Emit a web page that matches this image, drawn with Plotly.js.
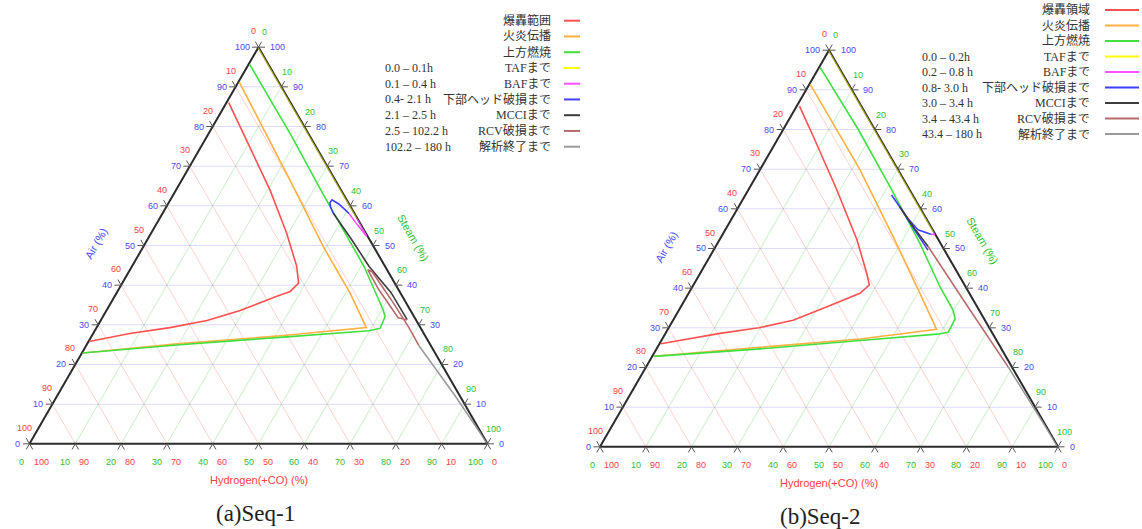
<!DOCTYPE html>
<html><head><meta charset="utf-8">
<script src="https://cdn.plot.ly/plotly-3.0.1.min.js"></script>
<style>html,body{margin:0;padding:0;background:#fff}#chart{width:1142px;height:529px}</style>
</head><body><div id="chart"></div>
<script>
// ================= DATA =================
const TICKS = [0,10,20,30,40,50,60,70,80,90,100];

const NAMES_1 = ['爆轟範囲','火炎伝播','上方燃焼','TAFまで','BAFまで','下部ヘッド破損まで','MCCIまで','RCV破損まで','解析終了まで'];
const NAMES_2 = ['爆轟領域','火炎伝播','上方燃焼','TAFまで','BAFまで','下部ヘッド破損まで','MCCIまで','RCV破損まで','解析終了まで'];
const TIMES_1 = ['','','','0.0 – 0.1h','0.1 – 0.4 h','0.4- 2.1 h','2.1 – 2.5 h','2.5 – 102.2 h','102.2 – 180 h'];
const TIMES_2 = ['','','','0.0 – 0.2h','0.2 – 0.8 h','0.8- 3.0 h','3.0 – 3.4 h','3.4 – 43.4 h','43.4 – 180 h'];
const CAPTIONS = ['(a)Seq-1','(b)Seq-2'];
const COLORS = ['#ff5050','#ffb040','#40e040','#ffff00','#ff50ff','#4040ff','#3c3c3c','#b86a6a','#9a9a9a'];

// ---- Seq-1 (Air %, Hydrogen(+CO) %, Steam %) ----
const S1_DET_AIR   = [86.0, 74.8, 63.9, 53.1, 44.7, 40.5, 38.4, 37.2, 33.6, 31.1, 29.3, 27.8, 25.8];
const S1_DET_H2    = [13.5, 14.5, 15.5, 17.3, 19.3, 21.0, 23.9, 27.4, 37.2, 45.7, 54.7, 64.2, 74.1];
const S1_DET_STEAM = [ 0.5, 10.7, 20.6, 29.6, 36.0, 38.5, 37.7, 35.4, 29.2, 23.2, 16.0,  8.0,  0.1];

const S1_FLA_AIR   = [91.2, 66.4, 49.7, 38.0, 29.3, 27.3, 25.2, 22.9];
const S1_FLA_H2    = [ 8.6,  9.9, 11.0, 11.0, 11.8, 30.9, 55.2, 76.9];
const S1_FLA_STEAM = [ 0.2, 23.7, 39.3, 51.0, 58.9, 41.8, 19.6,  0.2];

const S1_UP_AIR   = [95.7, 77.3, 63.9, 53.9, 44.7, 33.8, 32.1, 29.1, 28.5, 26.9, 24.9, 22.9];
const S1_UP_H2    = [ 4.1,  4.0,  4.4,  4.5,  4.6,  5.9,  6.3,  8.9, 11.6, 31.1, 55.4, 77.0];
const S1_UP_STEAM = [ 0.2, 18.7, 31.7, 41.6, 50.7, 60.3, 61.6, 62.0, 59.9, 42.0, 19.7,  0.1];

const S1_TAF_AIR = [100, 80, 57.0];
const S1_TAF_H2 = [0, 0, 0];
const S1_TAF_STEAM = [0, 20, 43.0];

const S1_BAF_AIR = [57.0, 54.5, 52.3, 55.2, 58.1];
const S1_BAF_H2 = [0, 0, 0.2, 0.8, 1.2];
const S1_BAF_STEAM = [43.0, 45.5, 47.5, 44.0, 40.7];

const S1_LH_AIR = [58.1, 60.4, 61.5, 60.8, 59.8, 58.2];
const S1_LH_H2 = [1.2, 2.2, 3.2, 4.0, 4.4, 4.6];
const S1_LH_STEAM = [40.7, 37.4, 35.3, 35.2, 35.8, 37.2];

const S1_MCCI_AIR = [58.2, 51.4, 44.7, 38.1, 31.3];
const S1_MCCI_H2 = [4.6, 3.9, 3.5, 2.0, 1.9];
const S1_MCCI_STEAM = [37.2, 44.7, 51.8, 59.9, 66.8];

const S1_RCV_AIR = [31.3, 31.8, 38.9, 43.9, 43.4, 35.6, 29.3, 24.8];
const S1_RCV_H2 = [1.9, 3.6, 4.3, 4.2, 3.5, 2.8, 2.5, 2.6];
const S1_RCV_STEAM = [66.8, 64.6, 56.8, 51.9, 53.1, 61.6, 68.2, 72.6];

const S1_END_AIR = [24.8, 12.0, 0];
const S1_END_H2 = [2.6, 1.0, 0];
const S1_END_STEAM = [72.6, 87.0, 100];

// ---- Seq-2 ----
const S2_DET_AIR   = [85.9, 78.3, 64.8, 52.2, 43.7, 40.8, 38.7, 35.4, 31.9, 30.0, 28.6, 26.0];
const S2_DET_H2    = [13.5, 14.3, 15.9, 17.8, 19.9, 20.8, 23.9, 32.6, 41.9, 50.3, 59.5, 73.7];
const S2_DET_STEAM = [ 0.6,  7.4, 19.3, 30.0, 36.4, 38.4, 37.4, 32.0, 26.2, 19.7, 11.9,  0.3];

const S2_FLA_AIR   = [91.4, 69.9, 53.0, 38.7, 29.6, 27.2, 25.1, 22.8];
const S2_FLA_H2    = [ 8.4,  8.3,  9.5, 10.8, 11.7, 29.6, 52.5, 76.8];
const S2_FLA_STEAM = [ 0.2, 21.8, 37.5, 50.5, 58.7, 43.2, 22.4,  0.4];

const S2_UP_AIR   = [95.6, 80.0, 64.8, 51.3, 40.3, 34.4, 32.3, 28.9, 28.4, 26.8, 24.7, 22.8];
const S2_UP_H2    = [ 4.1,  3.6,  3.9,  4.5,  5.6,  5.7,  6.3,  9.5, 12.2, 29.8, 52.7, 76.8];
const S2_UP_STEAM = [ 0.3, 16.4, 31.3, 44.2, 54.1, 59.9, 61.4, 61.6, 59.4, 43.4, 22.6,  0.4];

const S2_TAF_AIR = [100, 80, 54.3];
const S2_TAF_H2 = [0, 0, 0];
const S2_TAF_STEAM = [0, 20, 45.7];

const S2_BAF_AIR = [54.3, 53.5, 53.6];
const S2_BAF_H2 = [0, 0.3, 1.0];
const S2_BAF_STEAM = [45.7, 46.2, 45.4];

const S2_LH_AIR = [53.6, 54.7, 57.5, 63.5, 60.6, 55.0, 49.6];
const S2_LH_H2 = [1.0, 3.2, 4.0, 4.6, 4.3, 4.0, 3.6];
const S2_LH_STEAM = [45.4, 42.1, 38.5, 31.9, 35.1, 41.0, 46.8];

const S2_MCCI_AIR = [60.6, 55.0, 50.5];
const S2_MCCI_H2 = [4.3, 3.8, 3.1];
const S2_MCCI_STEAM = [35.1, 41.2, 46.4];

const S2_RCV_AIR = [50.5, 35.0, 20.1];
const S2_RCV_H2 = [3.1, 2.0, 0.8];
const S2_RCV_STEAM = [46.4, 63.0, 79.1];

const S2_END_AIR = [20.1, 10.0, 0];
const S2_END_H2 = [0.8, 0.4, 0];
const S2_END_STEAM = [79.1, 89.6, 100];

// ================= LAYOUT CONSTANTS =================
const FIG_W = 1142, FIG_H = 529;
const TRI = [{cx: 258.5, cy: 245.5, w: 458}, {cx: 829, cy: 248.5, w: 458}];
const CAPTION_DX = [-3, -9];
const SUBS = ['ternary','ternary2'];
const C_BLUE = '#4a4aff', C_RED = '#ff4040', C_GREEN = '#2fbf2f';
const SANS = 'Liberation Sans, Arial, sans-serif';
const SERIF = 'Liberation Serif, Times New Roman, Noto Sans CJK JP, serif';

const SERIES = [
  [[S1_DET_AIR,S1_DET_H2,S1_DET_STEAM],[S1_FLA_AIR,S1_FLA_H2,S1_FLA_STEAM],[S1_UP_AIR,S1_UP_H2,S1_UP_STEAM],
   [S1_TAF_AIR,S1_TAF_H2,S1_TAF_STEAM],[S1_BAF_AIR,S1_BAF_H2,S1_BAF_STEAM],[S1_LH_AIR,S1_LH_H2,S1_LH_STEAM],
   [S1_MCCI_AIR,S1_MCCI_H2,S1_MCCI_STEAM],[S1_RCV_AIR,S1_RCV_H2,S1_RCV_STEAM],[S1_END_AIR,S1_END_H2,S1_END_STEAM]],
  [[S2_DET_AIR,S2_DET_H2,S2_DET_STEAM],[S2_FLA_AIR,S2_FLA_H2,S2_FLA_STEAM],[S2_UP_AIR,S2_UP_H2,S2_UP_STEAM],
   [S2_TAF_AIR,S2_TAF_H2,S2_TAF_STEAM],[S2_BAF_AIR,S2_BAF_H2,S2_BAF_STEAM],[S2_LH_AIR,S2_LH_H2,S2_LH_STEAM],
   [S2_MCCI_AIR,S2_MCCI_H2,S2_MCCI_STEAM],[S2_RCV_AIR,S2_RCV_H2,S2_RCV_STEAM],[S2_END_AIR,S2_END_H2,S2_END_STEAM]]
];
const NAMES = [NAMES_1, NAMES_2];
const TIMES = [TIMES_1, TIMES_2];
const LEG = [
  {textRight: 553, swX0: 564, swX1: 580, y0: 20.7, dy: 15.75, timeLeft: 383},
  {textRight: 1092, swX0: 1105, swX1: 1139, y0: 10, dy: 15.5, timeLeft: 920}
];

const px2x = x => x / FIG_W;
const px2y = y => 1 - y / FIG_H;

// ternary (a,b,c) -> pixel position of the subplot's equilateral triangle (same geometry Plotly uses)
function tern2px(i, a, b, c) {
  const t = TRI[i];
  const h = t.w * Math.sqrt(3) / 2;
  const top = t.cy - h / 2;
  const s = a + b + c;
  a = a * 100 / s; b = b * 100 / s; c = c * 100 / s;
  return [t.cx + (c - b) / 200 * t.w, top + h * (1 - a / 100)];
}

const traces = [];
const annotations = [];
const shapes = [];
const layout = {
  width: FIG_W, height: FIG_H,
  margin: {l: 0, r: 0, t: 0, b: 0},
  paper_bgcolor: '#ffffff', plot_bgcolor: '#ffffff',
  showlegend: false,
  font: {family: SANS, size: 10, color: '#333'}
};

function axisBase(gridcolor) {
  return {
    title: {text: ''}, min: 0, tick0: 0, dtick: 10,
    showticklabels: false, ticks: '',
    showgrid: true, gridcolor: gridcolor, gridwidth: 1,
    showline: true, linecolor: '#2b2b2b', linewidth: 2,
    layer: 'below traces'
  };
}

function addLabels(i, baseFn, textFn, dx, dy, xanchor, color) {
  TICKS.forEach(v => {
    const b = baseFn(v);
    const p = tern2px(i, b[0], b[1], b[2]);
    annotations.push({xref: 'paper', yref: 'paper', x: px2x(p[0] + dx), y: px2y(p[1] + dy),
      text: String(textFn(v)), showarrow: false, xanchor: xanchor, yanchor: 'middle', borderpad: 0,
      font: {family: SANS, size: 9, color: color}});
  });
}

TRI.forEach((t, i) => {
  const sub = SUBS[i];
  const yc = (FIG_H - t.cy) / FIG_H;
  layout[sub] = {
    domain: {x: [(t.cx - t.w / 2) / FIG_W, (t.cx + t.w / 2) / FIG_W], y: [yc - 0.39, yc + 0.39]},
    sum: 100, bgcolor: 'rgba(0,0,0,0)',
    aaxis: axisBase('rgba(110,110,255,0.24)'),
    baxis: axisBase('rgba(255,110,110,0.32)'),
    caxis: axisBase('rgba(80,200,80,0.28)')
  };

  // data series
  SERIES[i].forEach((s, k) => {
    traces.push({type: 'scatterternary', subplot: sub, mode: 'lines', name: NAMES[i][k],
      a: s[0], b: s[1], c: s[2],
      line: {color: COLORS[k], width: k === 3 ? 2.2 : 1.6},
      opacity: k === 3 ? 0.6 : 1,
      hoverinfo: 'skip', showlegend: false});
  });

  // tick marks: short extensions of both grid families outside each edge
  const L = 6.5, hx = L * 0.5, hy = L * Math.sqrt(3) / 2;
  let path = '';
  const seg = (base, dx, dy) => {
    const p = tern2px(i, base[0], base[1], base[2]);
    path += 'M' + px2x(p[0]).toFixed(5) + ',' + px2y(p[1]).toFixed(5) +
            'L' + px2x(p[0] + dx).toFixed(5) + ',' + px2y(p[1] + dy).toFixed(5);
  };
  TICKS.forEach(v => {
    const left = [v, 100 - v, 0], bottom = [0, 100 - v, v], right = [v, 0, 100 - v];
    seg(left, -L, 0); seg(left, -hx, -hy);
    seg(bottom, hx, hy); seg(bottom, -hx, hy);
    seg(right, L, 0); seg(right, hx, -hy);
  });
  shapes.push({type: 'path', xref: 'paper', yref: 'paper', path: path, line: {color: '#555', width: 1}});

  // tick labels (two scales per edge)
  addLabels(i, v => [v, 100 - v, 0], v => v, -8, 0, 'right', C_BLUE);
  addLabels(i, v => [v, 100 - v, 0], v => 100 - v, -5, -16, 'center', C_RED);
  addLabels(i, v => [0, 100 - v, v], v => v, -4, 18.5, 'right', C_GREEN);
  addLabels(i, v => [0, 100 - v, v], v => 100 - v, 3, 18.5, 'left', C_RED);
  addLabels(i, v => [v, 0, 100 - v], v => v, 10.5, 0, 'left', C_BLUE);
  addLabels(i, v => [v, 0, 100 - v], v => 100 - v, 6, -15, 'center', C_GREEN);

  // axis titles & caption
  const bottomY = t.cy + t.w * Math.sqrt(3) / 4;
  annotations.push({xref: 'paper', yref: 'paper', x: px2x(t.cx - 163), y: px2y(t.cy - 2), text: 'Air (%)',
    textangle: -60, showarrow: false, font: {family: SANS, size: 11, color: C_BLUE}, xanchor: 'center', yanchor: 'middle'});
  annotations.push({xref: 'paper', yref: 'paper', x: px2x(t.cx + 154), y: px2y(t.cy - 8), text: 'Steam (%)',
    textangle: 60, showarrow: false, font: {family: SANS, size: 11, color: C_GREEN}, xanchor: 'center', yanchor: 'middle'});
  annotations.push({xref: 'paper', yref: 'paper', x: px2x(t.cx), y: px2y(bottomY + 36), text: 'Hydrogen(+CO) (%)',
    showarrow: false, font: {family: SANS, size: 11, color: C_RED}, xanchor: 'center', yanchor: 'middle'});
  annotations.push({xref: 'paper', yref: 'paper', x: px2x(t.cx + CAPTION_DX[i]), y: px2y(bottomY + 70), text: CAPTIONS[i],
    showarrow: false, font: {family: SERIF, size: 23, color: '#222'}, xanchor: 'center', yanchor: 'middle'});

  // legend (text on the left, line sample on the right)
  const lg = LEG[i];
  NAMES[i].forEach((nm, k) => {
    const y = lg.y0 + k * lg.dy;
    annotations.push({xref: 'paper', yref: 'paper', x: px2x(lg.textRight), y: px2y(y), text: nm,
      showarrow: false, xanchor: 'right', yanchor: 'middle', font: {family: SERIF, size: 12, color: '#333'}});
    shapes.push({type: 'line', xref: 'paper', yref: 'paper', x0: px2x(lg.swX0), x1: px2x(lg.swX1), y0: px2y(y), y1: px2y(y),
      line: {color: COLORS[k], width: 2}});
    if (TIMES[i][k]) {
      annotations.push({xref: 'paper', yref: 'paper', x: px2x(lg.timeLeft), y: px2y(y), text: TIMES[i][k],
        showarrow: false, xanchor: 'left', yanchor: 'middle', font: {family: SERIF, size: 12, color: '#333'}});
    }
  });
});

layout.annotations = annotations;
layout.shapes = shapes;
Plotly.newPlot('chart', traces, layout, {displayModeBar: false, staticPlot: true});
</script>
</body></html>
